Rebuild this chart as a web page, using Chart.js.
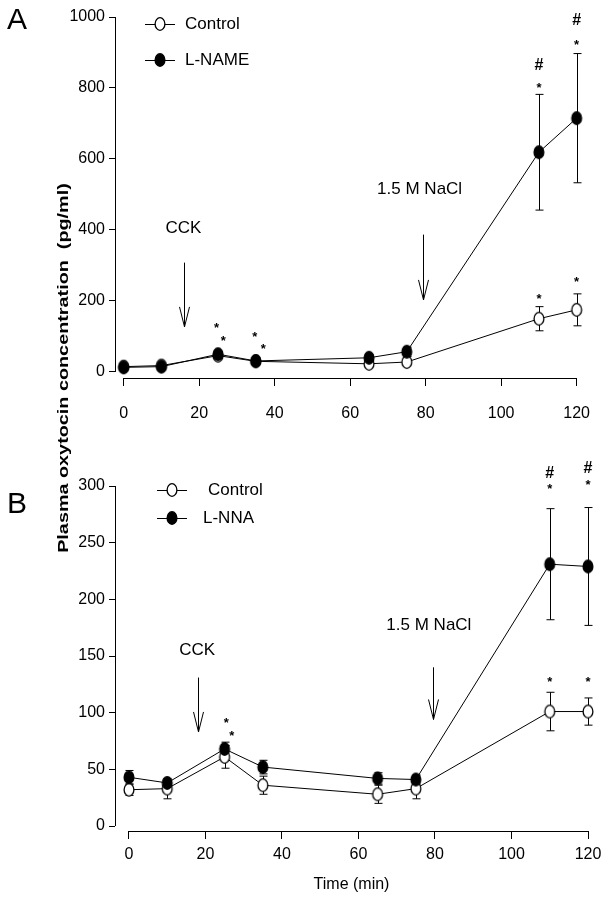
<!DOCTYPE html>
<html>
<head>
<meta charset="utf-8">
<script src="https://cdn.jsdelivr.net/npm/chart.js@4.4.1/dist/chart.umd.min.js"></script>
<style>
  body { margin: 0; background: #fff; }
  #wrap { position: relative; width: 608px; height: 900px; overflow: hidden; }
  #wrap canvas { position: absolute; left: 0; }
  #ytitle {
    position: absolute; left: -136px; top: 358px; width: 400px; height: 20px;
    line-height: 20px; text-align: center; white-space: pre;
    font: bold 15px "Liberation Sans", Arial, sans-serif; color: #000;
    transform: rotate(-90deg) scaleX(1.32);
  }
</style>
</head>
<body>
<div id="wrap">
  <canvas id="graficaA" width="608" height="450" style="top:0"></canvas>
  <canvas id="graficaB" width="608" height="450" style="top:450px"></canvas>
  <div id="ytitle">Plasma oxytocin concentration  (pg/ml)</div>
</div>
<script>
// Datos (min, pg/ml)
const tiempos = [0, 10, 25, 35, 65, 75, 110, 120];

const controlA = [15, 18, 46, 30, 23, 28, 150, 175];
const controlAErr = [5, 5, 8, 6, 6, 6, 34, 45];
const lnameA = [13, 15, 50, 31, 40, 57, 619, 715];
const lnameAErr = [5, 5, 8, 6, 9, 13, 163, 182];

const controlB = [32, 33, 61, 36, 28, 33, 101, 101];
const controlBErr = [5, 9, 10, 8, 8, 9, 17, 12];
const lnnaB = [43, 38, 68, 52, 42, 41, 231, 229];
const lnnaBErr = [6, 3, 6, 6, 5, 4, 49, 52];

const ticksX = [0, 20, 40, 60, 80, 100, 120];
const ticksYA = [0, 200, 400, 600, 800, 1000];
const ticksYB = [0, 50, 100, 150, 200, 250, 300];

const FUENTE = '"Liberation Sans", Arial, sans-serif';

// marcadores elipticos (la figura original esta algo estirada)
function marcador(relleno) {
    const c = document.createElement('canvas');
    c.width = 14; c.height = 16;
    const g = c.getContext('2d');
    g.beginPath();
    g.ellipse(7, 8, 4.9, 6.3, 0, 0, Math.PI * 2);
    g.fillStyle = relleno ? '#000' : '#fff';
    g.fill();
    g.lineWidth = 1.3;
    g.strokeStyle = '#000';
    g.stroke();
    return c;
}
const puntoAbierto = marcador(false);
const puntoLleno = marcador(true);

function flecha(ctx, x, y1, y2) {
    ctx.beginPath();
    ctx.moveTo(x, y1);
    ctx.lineTo(x, y2);
    ctx.moveTo(x - 5, y2 - 20);
    ctx.lineTo(x, y2);
    ctx.lineTo(x + 5, y2 - 20);
    ctx.stroke();
}

// barras de error, ejes desplazados y anotaciones
const pluginFigura = {
    id: 'figura',
    beforeDatasetsDraw(chart) {
        const ctx = chart.ctx;
        const xs = chart.scales.x, ys = chart.scales.y;
        const o = chart.options.plugins.figura;
        ctx.save();
        ctx.strokeStyle = '#000';
        ctx.lineWidth = 1;
        // ejes
        ctx.beginPath();
        const xl = Math.round(chart.chartArea.left) + 0.5;
        ctx.moveTo(xl, ys.getPixelForValue(o.yMax));
        ctx.lineTo(xl, ys.getPixelForValue(0));
        const yb = Math.round(chart.chartArea.bottom) + 0.5;
        ctx.moveTo(xs.getPixelForValue(0), yb);
        ctx.lineTo(xs.getPixelForValue(120), yb);
        ctx.stroke();
        // barras de error
        chart.data.datasets.forEach(ds => {
            ds.data.forEach((p, i) => {
                const e = ds.errores[i];
                const px = Math.round(xs.getPixelForValue(p.x)) + 0.5;
                const top = ys.getPixelForValue(p.y + e);
                const bot = ys.getPixelForValue(p.y - e);
                ctx.beginPath();
                ctx.moveTo(px, top); ctx.lineTo(px, bot);
                ctx.moveTo(px - 4, top); ctx.lineTo(px + 4, top);
                ctx.moveTo(px - 4, bot); ctx.lineTo(px + 4, bot);
                ctx.stroke();
            });
        });
        ctx.restore();
    },
    afterDraw(chart) {
        const ctx = chart.ctx;
        const xs = chart.scales.x, ys = chart.scales.y;
        const o = chart.options.plugins.figura;
        ctx.save();
        ctx.fillStyle = '#000';
        ctx.strokeStyle = '#000';
        ctx.lineWidth = 1;

        ctx.textAlign = 'center';
        ctx.textBaseline = 'middle';
        ctx.font = '17px ' + FUENTE;
        o.textos.forEach(t => {
            ctx.fillText(t.s, xs.getPixelForValue(t.x), ys.getPixelForValue(t.y));
        });
        o.flechas.forEach(f => {
            flecha(ctx, Math.round(xs.getPixelForValue(f.x)) + 0.5, ys.getPixelForValue(f.y1), ys.getPixelForValue(f.y2));
        });
        ctx.textBaseline = 'alphabetic';
        o.marcas.forEach(m => {
            const px = xs.getPixelForValue(m.x), py = ys.getPixelForValue(m.y);
            if (m.s === '#') {
                ctx.font = 'bold 16px ' + FUENTE;
                ctx.fillText('#', px, py + 6);
            } else {
                ctx.font = 'bold 13px ' + FUENTE;
                ctx.fillText('*', px, py + 8);
            }
        });

        // leyenda
        ctx.textAlign = 'left';
        ctx.textBaseline = 'middle';
        ctx.font = '17px ' + FUENTE;
        o.leyenda.forEach(l => {
            ctx.beginPath();
            ctx.moveTo(l.cx - 15, l.cy + 0.5);
            ctx.lineTo(l.cx + 15, l.cy + 0.5);
            ctx.stroke();
            const img = l.lleno ? puntoLleno : puntoAbierto;
            ctx.drawImage(img, l.cx - img.width / 2, l.cy - img.height / 2);
            ctx.fillText(l.s, l.tx, l.cy);
        });

        // letra del panel
        ctx.textAlign = 'center';
        ctx.font = '30px ' + FUENTE;
        ctx.fillText(o.letra, 17, o.letraY);
        ctx.restore();
    }
};

function serie(valores, errores, lleno, orden) {
    return {
        data: tiempos.map((t, i) => ({ x: t, y: valores[i] })),
        errores: errores,
        borderColor: '#000',
        borderWidth: 1,
        pointStyle: lleno ? puntoLleno : puntoAbierto,
        pointRadius: 6,
        pointHoverRadius: 6,
        tension: 0,
        clip: false,
        order: orden
    };
}

function crearPanel(id, p) {
    const ctx = document.getElementById(id);
    return new Chart(ctx, {
        type: 'line',
        data: { datasets: p.series },
        options: {
            responsive: false,
            animation: false,
            events: [],
            layout: { padding: { top: p.arriba, right: 20, left: 0, bottom: 0 } },
            plugins: {
                legend: { display: false },
                tooltip: { enabled: false },
                figura: p.figura
            },
            scales: {
                x: {
                    type: 'linear',
                    min: p.xMin,
                    max: 120,
                    afterBuildTicks: s => { s.ticks = ticksX.map(v => ({ value: v })); },
                    afterFit: s => { s.height = p.altoX; },
                    border: { display: false },
                    grid: { drawOnChartArea: false, drawTicks: true, tickLength: 8, color: '#000', lineWidth: 1 },
                    ticks: { color: '#000', font: { family: FUENTE, size: 16 }, padding: p.padX, maxRotation: 0, callback: v => String(v) },
                    title: p.tituloX ? { display: true, text: p.tituloX, color: '#000', font: { family: FUENTE, size: 16 }, padding: { top: 4, bottom: 6 } } : { display: false }
                },
                y: {
                    type: 'linear',
                    min: p.yMin,
                    max: p.yMax,
                    afterBuildTicks: s => { s.ticks = p.ticksY.map(v => ({ value: v })); },
                    afterFit: s => { s.width = 115; },
                    border: { display: false },
                    grid: { drawOnChartArea: false, drawTicks: true, tickLength: 6, color: '#000', lineWidth: 1 },
                    ticks: { color: '#000', font: { family: FUENTE, size: 16 }, padding: 4, callback: v => String(v) }
                }
            }
        },
        plugins: [pluginFigura]
    });
}

crearPanel('graficaA', {
    series: [serie(controlA, controlAErr, false, 1), serie(lnameA, lnameAErr, true, 0)],
    arriba: 17, xMin: -2.3, yMin: -17, yMax: 1000, ticksY: ticksYA, altoX: 72, padX: 18,
    figura: {
        yMax: 1000, letra: 'A', letraY: 21,
        textos: [{ s: 'CCK', x: 15.8, y: 404 }, { s: '1.5 M NaCl', x: 78.4, y: 514 }],
        flechas: [{ x: 16, y1: 308, y2: 127 }, { x: 79.2, y1: 387, y2: 203 }],
        marcas: [
            { s: '*', x: 110, y: 811 }, { s: '#', x: 110, y: 867 },
            { s: '*', x: 120, y: 932 }, { s: '#', x: 120, y: 994 },
            { s: '*', x: 110, y: 218 }, { s: '*', x: 120, y: 266 },
            { s: '*', x: 24.6, y: 136 }, { s: '*', x: 26.4, y: 99 },
            { s: '*', x: 34.7, y: 110 }, { s: '*', x: 37, y: 76 }
        ],
        leyenda: [
            { s: 'Control', cx: 160, cy: 24, tx: 185, lleno: false },
            { s: 'L-NAME', cx: 160, cy: 60, tx: 185, lleno: true }
        ]
    }
});

crearPanel('graficaB', {
    series: [serie(controlB, controlBErr, false, 1), serie(lnnaB, lnnaBErr, true, 0)],
    arriba: 36, xMin: -3.66, yMin: -4.4, yMax: 300, ticksY: ticksYB, altoX: 69, padX: 6,
    tituloX: 'Time (min)',
    figura: {
        yMax: 300, letra: 'B', letraY: 55,
        textos: [{ s: 'CCK', x: 17.8, y: 155 }, { s: '1.5 M NaCl', x: 78.4, y: 177 }],
        flechas: [{ x: 18, y1: 131, y2: 83 }, { x: 79.5, y1: 140, y2: 94 }],
        marcas: [
            { s: '#', x: 110, y: 312 }, { s: '*', x: 110, y: 301 },
            { s: '#', x: 120, y: 317 }, { s: '*', x: 120, y: 304 },
            { s: '*', x: 110, y: 131 }, { s: '*', x: 120, y: 131 },
            { s: '*', x: 25.4, y: 94 }, { s: '*', x: 26.9, y: 83 }
        ],
        leyenda: [
            { s: 'Control', cx: 172, cy: 40, tx: 208, lleno: false },
            { s: 'L-NNA', cx: 172, cy: 68, tx: 203, lleno: true }
        ]
    }
});
</script>
</body>
</html>
